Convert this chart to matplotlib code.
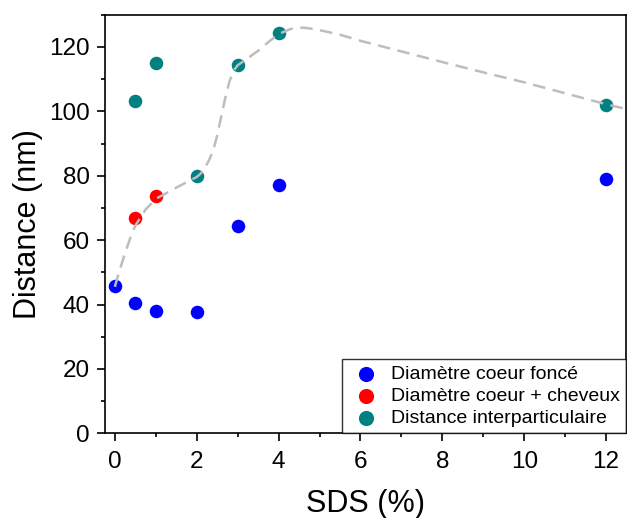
import matplotlib
matplotlib.use("Agg")
import matplotlib.pyplot as plt
from matplotlib.ticker import MultipleLocator

plt.rcParams['font.family'] = ['Liberation Sans', 'DejaVu Sans']

# Diamètre coeur foncé
x_coeur = [0, 0.5, 1, 2, 3, 4, 12]
y_coeur = [45.9, 40.6, 38.1, 37.7, 64.5, 77.0, 79.0]
# Diamètre coeur + cheveux
x_cheveux = [0.5, 1]
y_cheveux = [66.9, 73.8]
# Distance interparticulaire
x_dist = [0.5, 1, 2, 3, 4, 12]
y_dist = [103.2, 114.9, 79.9, 114.4, 124.2, 101.9]

# guide-line
x_guide = [0, 0.1, 0.25, 0.4, 0.5, 0.75, 1, 1.5, 2, 2.1, 2.2, 2.3, 2.4, 2.5, 2.6, 2.7,
           2.8, 2.9, 3, 3.25, 3.5, 3.75, 4, 4.3, 4.6, 4.9, 5.5, 6, 7, 8, 9, 10, 11, 12, 12.5]
y_guide = [45.5, 50, 56, 61.5, 64.5, 69.5, 72.8, 76.3, 79.6, 80.7, 82.4, 84.8, 87.7, 92.5, 98.5, 104.3,
           109.3, 112.6, 114.3, 116.5, 118.8, 121.5, 124, 125.6, 126, 125.5, 123.8, 121.9, 118.6, 115.3,
           112.1, 109, 105.6, 102.2, 100.7]

fig = plt.figure(figsize=(6.27, 5.18), dpi=100)
ax = fig.add_axes([0.1675, 0.1635, 0.8305, 0.8081])

ax.plot(x_guide, y_guide, color='#bdbdbd', lw=1.8, dashes=(5, 3), zorder=3)
ax.scatter(x_coeur, y_coeur, s=95, color='#0000ff', label='Diamètre coeur foncé', zorder=2, linewidths=0)
ax.scatter(x_cheveux, y_cheveux, s=95, color='#ff0000', label='Diamètre coeur + cheveux', zorder=2, linewidths=0)
ax.scatter(x_dist, y_dist, s=95, color='#008080', label='Distance interparticulaire', zorder=2, linewidths=0)

ax.set_xlim(-0.24, 12.48)
ax.set_ylim(0, 130)
ax.xaxis.set_major_locator(MultipleLocator(2))
ax.xaxis.set_minor_locator(MultipleLocator(1))
ax.yaxis.set_major_locator(MultipleLocator(20))
ax.yaxis.set_minor_locator(MultipleLocator(10))
ax.tick_params(which='major', direction='out', length=6, width=1.2, labelsize=17.5)
ax.tick_params(which='minor', direction='out', length=3, width=1.2)
ax.tick_params(axis='x', which='major', pad=7)
ax.tick_params(axis='y', which='major', pad=5)
for s in ax.spines.values():
    s.set_linewidth(1.2)

ax.set_xlabel('SDS (%)', fontsize=22, labelpad=11)
ax.set_ylabel('Distance (nm)', fontsize=22, labelpad=4)

leg = ax.legend(loc='lower right', fontsize=14, frameon=True, fancybox=False,
                borderaxespad=0, handletextpad=0.4, labelspacing=0.24, borderpad=0.3,
                handlelength=1.8, markerscale=1.12)
leg.get_frame().set_edgecolor('black')
leg.get_frame().set_linewidth(1.0)

fig.savefig('out.png', dpi=100)
